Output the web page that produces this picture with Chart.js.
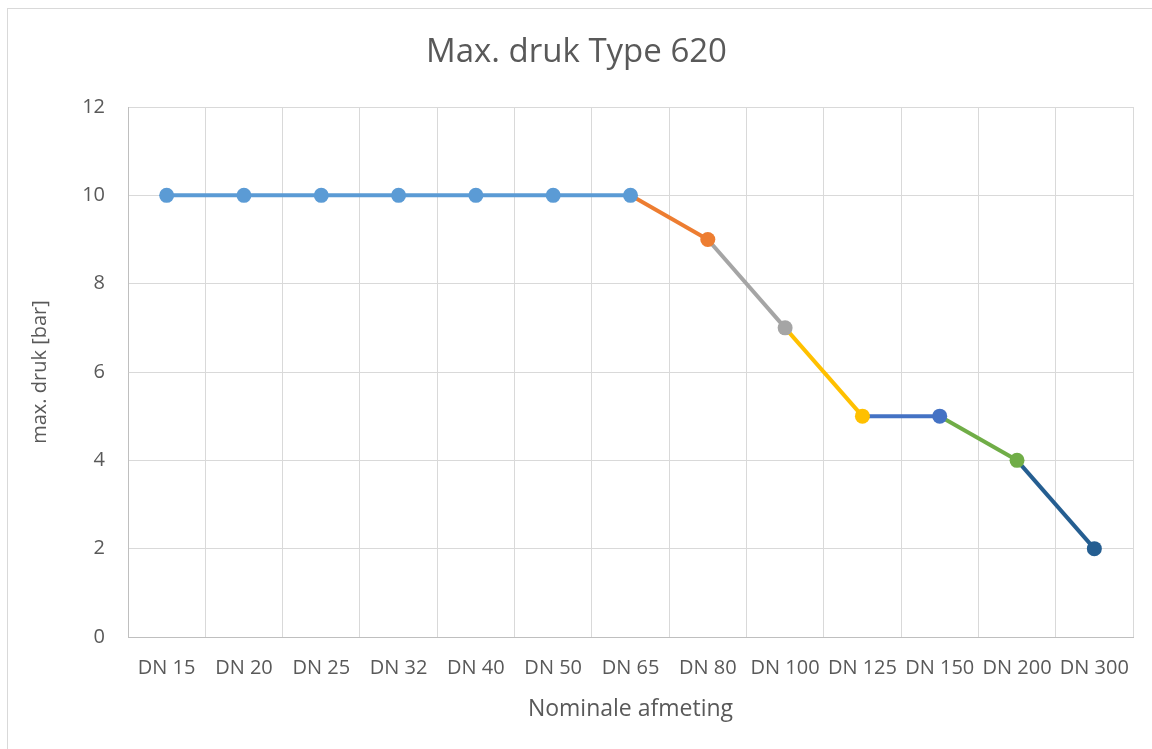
<!DOCTYPE html>
<html>
<head>
<meta charset="utf-8">
<script src="https://cdn.jsdelivr.net/npm/chart.js@4.4.1/dist/chart.umd.min.js"></script>
<style>
    html, body { margin: 0; padding: 0; background: #fff; overflow: hidden; }
    #frame { position: absolute; left: 7px; top: 8px; width: 1170px; height: 770px; border: 1px solid #d9d9d9; }
    #wrap { position: absolute; left: 0; top: 0; width: 1152px; height: 749px; }
</style>
</head>
<body>
<div id="frame"></div>
<div id="wrap"><canvas id="myChart"></canvas></div>
<script>
// categorieën (x-as)
const labels = ["DN 15", "DN 20", "DN 25", "DN 32", "DN 40", "DN 50", "DN 65",
    "DN 80", "DN 100", "DN 125", "DN 150", "DN 200", "DN 300"];

// max. druk per segment, elk segment een eigen reeks
const serie1 = [10, 10, 10, 10, 10, 10, 10, null, null, null, null, null, null];
const serie2 = [null, null, null, null, null, null, 10, 9, null, null, null, null, null];
const serie3 = [null, null, null, null, null, null, null, 9, 7, null, null, null, null];
const serie4 = [null, null, null, null, null, null, null, null, 7, 5, null, null, null];
const serie5 = [null, null, null, null, null, null, null, null, null, 5, 5, null, null];
const serie6 = [null, null, null, null, null, null, null, null, null, null, 5, 4, null];
const serie7 = [null, null, null, null, null, null, null, null, null, null, null, 4, 2];

const yTicks = [0, 2, 4, 6, 8, 10, 12];

const series = [serie1, serie2, serie3, serie4, serie5, serie6, serie7];
const colors = ["#5B9BD5", "#ED7D31", "#A5A5A5", "#FFC000", "#4472C4", "#70AD47", "#255E91"];

const txt = "#595959";
const grid = "#d9d9d9";
const fontName = "'Open Sans', sans-serif";

function lastIndex(arr) {
    for (let i = arr.length - 1; i >= 0; i--) {
        if (arr[i] !== null) return i;
    }
    return -1;
}

let datasets = [];
series.forEach((s, i) => {
    datasets.push({
        label: "Reeks " + (i + 1),
        data: s,
        borderColor: colors[i],
        backgroundColor: colors[i],
        borderWidth: 4,
        pointBorderWidth: 0,
        pointRadius: function (ctx) {
            if (i === 0) return 7.5;
            return ctx.dataIndex === lastIndex(s) ? 7.5 : 0;
        },
        pointHoverRadius: 7.5,
        spanGaps: false,
        tension: 0
    });
});

const ctx = document.getElementById("myChart").getContext("2d");
const myChart = new Chart(ctx, {
    type: "line",
    data: {
        labels: labels,
        datasets: datasets
    },
    options: {
        responsive: true,
        maintainAspectRatio: false,
        animation: false,
        layout: {
            padding: { left: 20, right: 19, top: 0, bottom: 20 }
        },
        plugins: {
            legend: { display: false },
            tooltip: { enabled: false },
            title: {
                display: true,
                text: "Max. druk Type 620",
                color: txt,
                font: { family: fontName, size: 33, weight: "normal" },
                padding: { top: 32.5, bottom: 34.9 }
            }
        },
        scales: {
            x: {
                offset: true,
                grid: { offset: true, color: grid, lineWidth: 1, drawTicks: false },
                border: { color: "#bfbfbf", width: 1 },
                ticks: {
                    color: txt,
                    font: { family: fontName, size: 20 },
                    padding: 19,
                    maxRotation: 0,
                    autoSkip: false
                },
                title: {
                    display: true,
                    text: "Nominale afmeting",
                    color: txt,
                    font: { family: fontName, size: 23 },
                    padding: { top: 0, bottom: 6 }
                },
                afterFit: function (scale) {
                    scale.height = 92;
                }
            },
            y: {
                min: 0,
                max: 12,
                grid: { color: grid, lineWidth: 1, drawTicks: false },
                border: { color: "#bfbfbf", width: 1 },
                afterBuildTicks: function (scale) {
                    scale.ticks = yTicks.map(v => ({ value: v }));
                },
                ticks: {
                    color: txt,
                    font: { family: fontName, size: 20 },
                    padding: 23
                },
                title: {
                    display: true,
                    text: "max. druk [bar]",
                    color: txt,
                    font: { family: fontName, size: 20 },
                    padding: { top: 8, bottom: 0 }
                },
                afterFit: function (scale) {
                    scale.width = 108;
                }
            }
        }
    }
});
</script>
</body>
</html>
